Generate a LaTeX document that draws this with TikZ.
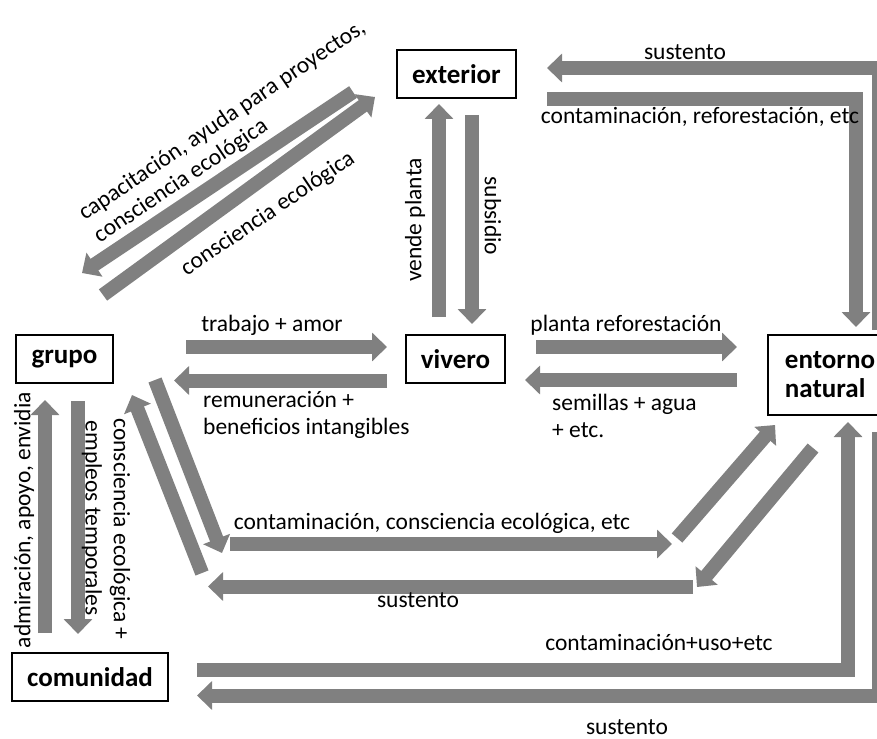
\documentclass[tikz,border=0pt]{standalone}
\usepackage{fontspec}
\setmainfont{Carlito}
\usetikzlibrary{arrows.meta}
\definecolor{flowgray}{RGB}{128,128,128}

\begin{document}
\begin{tikzpicture}[
        x = 1pt, y = -1pt,
        box/.style = {draw, line width = 2pt, minimum height = 48pt, inner sep = 0pt, font = \bfseries\fontsize{27}{29}\selectfont},
        flow/.style = {draw = flowgray, line width = 14pt, -{Triangle[width = 28pt, length = 15pt]}},
        lbl/.style = {inner sep = 0pt, font = \fontsize{23.5}{27}\selectfont}
    ]

    \useasboundingbox (0,0) rectangle (877,738);
    \clip (0,0) rectangle (877,738);

    % actors
    \node[box, minimum width = 119pt] (exterior) at (456.5,74) {exterior};
    \node[box, minimum width = 97pt] (grupo) at (64.5,359) {grupo};
    \node[box, minimum width = 99pt] (vivero) at (455.5,359) {vivero};
    \node[box, minimum width = 124pt, minimum height = 80pt, align = left, anchor = west] (entorno) at (767,375) {entorno\\natural};
    \node[box, minimum width = 156pt] (comunidad) at (90,677) {comunidad};

    % flow ends
    \coordinate (sustTopA) at (879,330);
    \coordinate (sustTopB) at (547,68);
    \coordinate (contRefA) at (547,99.5);
    \coordinate (contRefB) at (856,327);
    \coordinate (vendeA) at (439,317);
    \coordinate (vendeB) at (439,104);
    \coordinate (subsA) at (472,115);
    \coordinate (subsB) at (472,324);
    \coordinate (capacA) at (353,92);
    \coordinate (capacB) at (82,273);
    \coordinate (conscA) at (103,295);
    \coordinate (conscB) at (375,97);
    \coordinate (trabA) at (186,347);
    \coordinate (trabB) at (387,347);
    \coordinate (remuA) at (387,380.5);
    \coordinate (remuB) at (174,380.5);
    \coordinate (plantaA) at (536,347);
    \coordinate (plantaB) at (737,347);
    \coordinate (semA) at (737,380);
    \coordinate (semB) at (525,380);
    \coordinate (admA) at (45,633);
    \coordinate (admB) at (45,400);
    \coordinate (emplA) at (78,401);
    \coordinate (emplB) at (78,634);
    \coordinate (diagGA) at (155,380);
    \coordinate (diagGB) at (222,553);
    \coordinate (contMidA) at (230,544);
    \coordinate (contMidB) at (672,544);
    \coordinate (diagEA) at (677,538);
    \coordinate (diagEB) at (775,425);
    \coordinate (diagRA) at (813,448);
    \coordinate (diagRB) at (697,587);
    \coordinate (sustMidA) at (693,586.5);
    \coordinate (sustMidB) at (208,586.5);
    \coordinate (diagLA) at (202,573);
    \coordinate (diagLB) at (132,395);
    \coordinate (usoA) at (197,670);
    \coordinate (usoB) at (848,422);
    \coordinate (sustBotA) at (879,432);
    \coordinate (sustBotB) at (197,695.5);

    % flows
    \draw[flow] (sustTopA) |- (sustTopB);
    \draw[flow] (contRefA) -| (contRefB);
    \draw[flow] (vendeA) -- (vendeB);
    \draw[flow] (subsA) -- (subsB);
    \draw[flow] (capacA) -- (capacB);
    \draw[flow] (conscA) -- (conscB);
    \draw[flow] (trabA) -- (trabB);
    \draw[flow] (remuA) -- (remuB);
    \draw[flow] (plantaA) -- (plantaB);
    \draw[flow] (semA) -- (semB);
    \draw[flow] (admA) -- (admB);
    \draw[flow] (emplA) -- (emplB);
    \draw[flow] (diagGA) -- (diagGB);
    \draw[flow] (contMidA) -- (contMidB);
    \draw[flow] (diagEA) -- (diagEB);
    \draw[flow] (diagRA) -- (diagRB);
    \draw[flow] (sustMidA) -- (sustMidB);
    \draw[flow] (diagLA) -- (diagLB);
    \draw[flow] (usoA) -| (usoB);
    \draw[flow] (sustBotA) |- (sustBotB);

    % labels
    \node[lbl] (lSustTop) at (685,52) {sustento};
    \node[lbl] (lContRef) at (700,117) {contaminación, reforestación, etc};
    \node[lbl, rotate = 90] (lVende) at (415,220) {vende planta};
    \node[lbl, rotate = -90] (lSubs) at (493,216) {subsidio};
    \node[lbl, rotate = 34, align = left] (lCapac) at (230,132) {capacitación, ayuda para proyectos,\\consciencia ecológica};
    \node[lbl, rotate = 34] (lConsc) at (268,214) {consciencia ecológica};
    \node[lbl] (lTrab) at (272,325) {trabajo + amor};
    \node[lbl, align = left, anchor = west] (lRemu) at (203,415) {remuneración +\\beneficios intangibles};
    \node[lbl] (lPlanta) at (626,325) {planta reforestación};
    \node[lbl, align = left, anchor = west] (lSem) at (552,416) {semillas + agua\\+ etc.};
    \node[lbl, rotate = 90] (lAdm) at (24,520) {admiración, apoyo, envidia};
    \node[lbl, rotate = -90] (lEmpl) at (92,518) {empleos temporales};
    \node[lbl, rotate = -90] (lConscCom) at (120,529) {consciencia ecológica +};
    \node[lbl] (lContMid) at (432,523) {contaminación, consciencia ecológica, etc};
    \node[lbl] (lSustMid) at (418,600) {sustento};
    \node[lbl] (lUso) at (659,642) {contaminación+uso+etc};
    \node[lbl] (lSustBot) at (627,727) {sustento};
\end{tikzpicture}
\end{document}
